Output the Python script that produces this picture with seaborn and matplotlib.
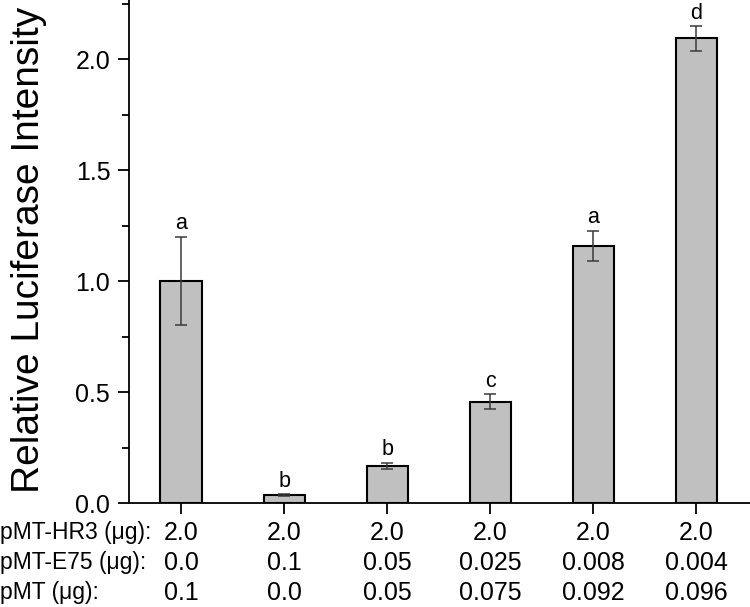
import numpy as np
import pandas as pd
import matplotlib
matplotlib.use("Agg")
import matplotlib.pyplot as plt
import matplotlib.transforms as mtransforms
import seaborn as sns

# data
groups = ["G1", "G2", "G3", "G4", "G5", "G6"]
luciferase = [1.00, 0.036, 0.167, 0.456, 1.158, 2.093]
errors = [0.20, 0.003, 0.013, 0.034, 0.068, 0.055]
letters = ["a", "b", "b", "c", "a", "d"]

row_labels = ["pMT-HR3 (\u03bcg):", "pMT-E75 (\u03bcg):", "pMT (\u03bcg):"]
hr3 = ["2.0", "2.0", "2.0", "2.0", "2.0", "2.0"]
e75 = ["0.0", "0.1", "0.05", "0.025", "0.008", "0.004"]
pmt = ["0.1", "0.0", "0.05", "0.075", "0.092", "0.096"]

sns.set_style("ticks")
plt.rcParams['font.family'] = ['Liberation Sans', 'DejaVu Sans']
plt.rcParams['text.color'] = 'black'
plt.rcParams['xtick.color'] = 'black'
plt.rcParams['ytick.color'] = 'black'
plt.rcParams['axes.edgecolor'] = 'black'

df = pd.DataFrame({"group": groups, "value": luciferase})

fig = plt.figure(figsize=(7.5, 6.07), dpi=100)
ax = fig.add_axes([0.172, 0.1713, 0.828, 0.8287])

sns.barplot(data=df, x="group", y="value", color="#c0c0c0", saturation=1,
            width=0.4, edgecolor="black", linewidth=1.5, errorbar=None, ax=ax)
xs = np.arange(len(groups))
ax.errorbar(xs, luciferase, yerr=errors, fmt="none", ecolor="#3a3a3a",
            elinewidth=1.1, capsize=4.5, capthick=1.1)

for x, v, e, l in zip(xs, luciferase, errors, letters):
    ax.annotate(l, (x, v + e), xytext=(0, 5.5), textcoords="offset points",
                ha="center", va="baseline", fontsize=15.5)

ax.set_xlim(-0.505, 5.52)
ax.set_ylim(0, 2.266)
ax.set_yticks([0.0, 0.5, 1.0, 1.5, 2.0])
ax.set_yticklabels(["0.0", "0.5", "1.0", "1.5", "2.0"])
ax.set_yticks(np.arange(0.25, 2.26, 0.5), minor=True)
ax.set_xticks(xs)
ax.set_xticklabels([])
ax.set_xlabel("")
ax.set_ylabel("")
ax.tick_params(axis="both", which="major", direction="out", length=8, width=1.3,
               labelsize=18, labelcolor="black", pad=5.5)
ax.tick_params(axis="y", which="minor", direction="out", length=5, width=1.3)
for s in ["left", "bottom"]:
    ax.spines[s].set_linewidth(1.3)
sns.despine(ax=ax)

fig.text(0.039, 0.588, "Relative Luciferase Intensity", rotation=90,
         ha="center", va="center", fontsize=28)

# table under the bars
trans = mtransforms.blended_transform_factory(ax.transData, fig.transFigure)
row_y = [1 - 533 / 607, 1 - 563 / 607, 1 - 593 / 607]
for ry, lab, vals in zip(row_y, row_labels, [hr3, e75, pmt]):
    fig.text(0.0, ry, lab, ha="left", va="center", fontsize=16.5)
    for x, v in zip(xs, vals):
        ax.text(x, ry, v, transform=trans, ha="center", va="center",
                fontsize=18, clip_on=False)

fig.savefig("out.png", dpi=100)
